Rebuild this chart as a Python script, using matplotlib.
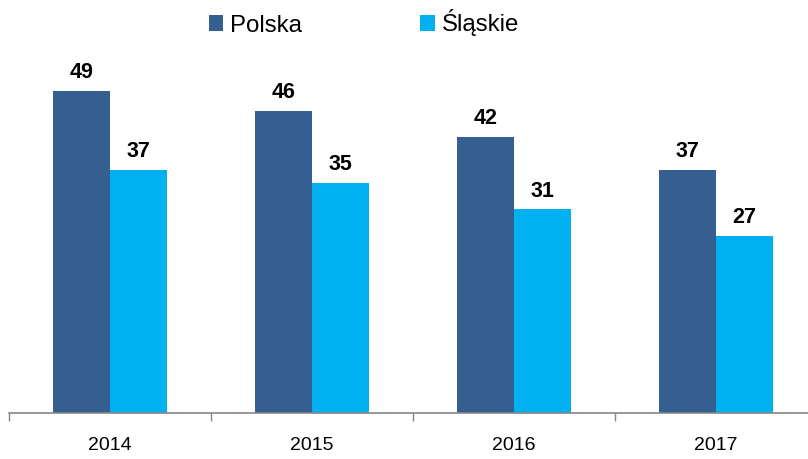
import matplotlib
matplotlib.use("Agg")
import matplotlib.pyplot as plt
import numpy as np

years = ["2014", "2015", "2016", "2017"]
polska = [49, 46, 42, 37]
slaskie = [37, 35, 31, 27]
series_names = ["Polska", "Śląskie"]
colors = ["#365F91", "#00B0F0"]

plt.rcParams['font.family'] = ['Liberation Sans', 'DejaVu Sans']

W, H = 808, 459
fig = plt.figure(figsize=(W/100, H/100), dpi=100)
ax = fig.add_axes([9/W, 46/H, 808/W, (413-40)/H])

x = np.arange(len(years))
bw = 0.282
b1 = ax.bar(x - bw/2, polska, bw, color=colors[0], label=series_names[0])
b2 = ax.bar(x + bw/2, slaskie, bw, color=colors[1], label=series_names[1])

for bars, vals in ((b1, polska), (b2, slaskie)):
    for r, v in zip(bars, vals):
        ax.annotate(str(v), (r.get_x() + r.get_width()/2, v), xytext=(0, 5.5),
                    textcoords="offset points", ha="center", va="bottom",
                    fontsize=15.5, fontweight="bold", color="black")

ax.set_xlim(-0.5, 3.5)
ax.set_ylim(0, 373/6.57)
ax.set_xticks(x)
ax.set_xticklabels(years, fontsize=14)
ax.set_xticks(np.arange(-0.5, 3.6, 1), minor=True)
ax.tick_params(axis='x', which='major', length=0, pad=17)
ax.tick_params(axis='x', which='minor', length=6, color="#868686", width=1)
ax.set_yticks([])
for s in ["top", "right", "left"]:
    ax.spines[s].set_visible(False)
ax.spines["bottom"].set_color("#868686")
ax.spines["bottom"].set_linewidth(1.2)

fig.legend(handles=[b1, b2], labels=series_names, loc="center",
           bbox_to_anchor=(364/W, 1 - 23/H), ncol=2, frameon=False,
           fontsize=17.3, handlelength=0.6, handleheight=0.6,
           handletextpad=0.3, columnspacing=4.9)

fig.savefig("out.png", dpi=100)
